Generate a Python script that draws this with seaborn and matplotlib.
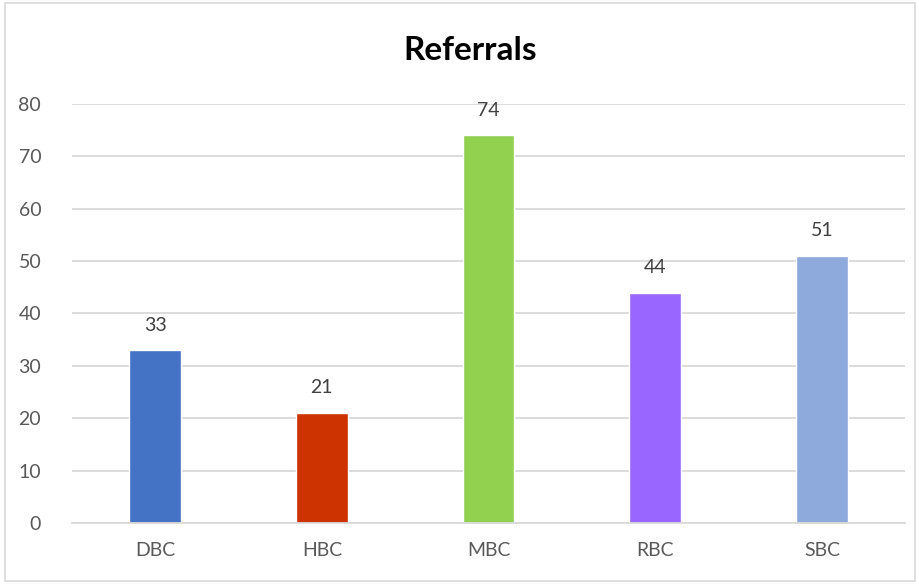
import matplotlib.pyplot as plt
import seaborn as sns
import pandas as pd
from matplotlib.patches import Rectangle

# Data
categorias = ['DBC', 'HBC', 'MBC', 'RBC', 'SBC']
referrals = [33, 21, 74, 44, 51]
cores = ['#4472C4', '#CC3300', '#92D050', '#9966FF', '#8EA9DB']

df = pd.DataFrame({'categoria': categorias, 'referrals': referrals})

sns.set_theme(style='white')
plt.rcParams['font.family'] = ['Lato', 'DejaVu Sans']

fig = plt.figure(figsize=(9.2, 5.84), dpi=100)
ax = fig.add_axes([0.078, 0.1045, 0.906, 0.7175])

sns.barplot(data=df, x='categoria', y='referrals', hue='categoria',
            palette=cores, width=0.31, legend=False, ax=ax, saturation=1)

# Rotulos de valor
for i, v in enumerate(referrals):
    ax.annotate(str(v), (i, v), xytext=(0, 18), textcoords='offset points',
                ha='center', va='center', fontsize=14, color='#404040')

ax.set_ylim(0, 80)
ax.set_xlim(-0.5, 4.5)
ax.set_yticks(range(0, 81, 10))
ax.yaxis.grid(True, color='#D9D9D9', linewidth=1.3)
ax.set_axisbelow(True)
for s in ['top', 'right', 'left']:
    ax.spines[s].set_visible(False)
ax.spines['bottom'].set_color('#D9D9D9')
ax.spines['bottom'].set_linewidth(1.3)
ax.tick_params(axis='both', length=0, labelsize=14, colors='#595959')
ax.tick_params(axis='x', pad=14)
ax.tick_params(axis='y', pad=22)
ax.set_xlabel('')
ax.set_ylabel('')

fig.text(0.511, 0.913, 'Referrals', ha='center', va='center',
         fontsize=24, fontweight='bold', color='black')

# Borda do grafico
fig.patches.append(Rectangle((0.005, 0.005), 0.99, 0.99, transform=fig.transFigure,
                             fill=False, edgecolor='#D9D9D9', linewidth=1.2))

fig.savefig('out.png', dpi=100)
